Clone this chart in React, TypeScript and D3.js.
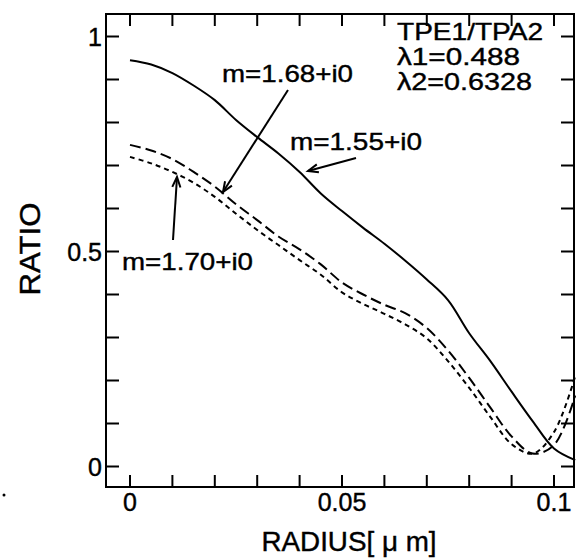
import React from "react";
import * as d3 from "d3";

const radius = [0, 0.005, 0.01, 0.015, 0.02, 0.025, 0.03, 0.035, 0.04, 0.045, 0.05, 0.055, 0.06, 0.065, 0.07, 0.075, 0.08, 0.085, 0.09, 0.095, 0.1, 0.105];
const ratio155 = [0.945, 0.935, 0.915, 0.886, 0.852, 0.806, 0.766, 0.728, 0.685, 0.635, 0.594, 0.555, 0.518, 0.478, 0.435, 0.387, 0.31, 0.245, 0.174, 0.105, 0.042, 0.015];
const ratio168 = [0.748, 0.735, 0.715, 0.685, 0.651, 0.61, 0.573, 0.535, 0.505, 0.47, 0.428, 0.4, 0.376, 0.356, 0.322, 0.27, 0.206, 0.137, 0.07, 0.03, 0.05, 0.165];
const ratio170 = [0.72, 0.705, 0.685, 0.66, 0.627, 0.588, 0.55, 0.515, 0.48, 0.446, 0.405, 0.378, 0.355, 0.33, 0.298, 0.245, 0.183, 0.115, 0.052, 0.03, 0.08, 0.21];
const xTicks = [0, 0.01, 0.02, 0.03, 0.04, 0.05, 0.06, 0.07, 0.08, 0.09, 0.1];
const xLabels = [{ v: 0, t: "0" }, { v: 0.05, t: "0.05" }, { v: 0.1, t: "0.1" }];
const yTicks = [0, 0.1, 0.2, 0.3, 0.4, 0.5, 0.6, 0.7, 0.8, 0.9, 1];
const yLabels = [{ v: 0, t: "0" }, { v: 0.5, t: "0.5" }, { v: 1, t: "1" }];
const infoLines = ["TPE1/TPA2", "λ1=0.488", "λ2=0.6328"];

const W = 576, H = 558;
const FONT = "'Liberation Sans', Arial, Helvetica, sans-serif";

export default function App() {
  const x = d3.scaleLinear().domain([0, 0.1]).range([130, 554]);
  const y = d3.scaleLinear().domain([0, 1]).range([466.5, 36.5]);
  const left = 106, right = 574, top = 14, bottom = 487;
  const line = (vals: number[]) =>
    d3.line<number>().x((_, i) => x(radius[i])).y((d) => y(d)).curve(d3.curveCatmullRom.alpha(0.5))(vals) || "";

  const arrow = (x1: number, y1: number, x2: number, y2: number, key: string) => {
    const a = Math.atan2(y2 - y1, x2 - x1);
    const L = 11, s = 0.38;
    const p1 = [x2 - L * Math.cos(a - s), y2 - L * Math.sin(a - s)];
    const p2 = [x2 - L * Math.cos(a + s), y2 - L * Math.sin(a + s)];
    return (
      <g key={key} stroke="#000" strokeWidth={2} fill="none">
        <line x1={x1} y1={y1} x2={x2} y2={y2} />
        <polyline points={`${p1[0]},${p1[1]} ${x2},${y2} ${p2[0]},${p2[1]}`} />
      </g>
    );
  };

  const txt = { fill: "#000", stroke: "#000", strokeWidth: 0.4 };

  return (
    <svg width={W} height={H} style={{ position: "absolute", left: 0, top: 0, background: "#fff" }} fontFamily={FONT}>
      <rect x={0} y={0} width={W} height={H} fill="#fff" />
      <defs>
        <clipPath id="plot">
          <rect x={left} y={top} width={right - left + 2} height={bottom - top} />
        </clipPath>
      </defs>
      {/* frame */}
      <rect x={left} y={top} width={right - left} height={bottom - top} fill="none" stroke="#000" strokeWidth={2} />
      {/* ticks */}
      {xTicks.map((t) => (
        <g key={"xt" + t} stroke="#000" strokeWidth={2}>
          <line x1={x(t)} x2={x(t)} y1={bottom} y2={bottom - 12} />
          <line x1={x(t)} x2={x(t)} y1={top} y2={top + 12} />
        </g>
      ))}
      {yTicks.map((t) => (
        <g key={"yt" + t} stroke="#000" strokeWidth={2}>
          <line x1={left} x2={left + 13} y1={y(t)} y2={y(t)} />
          <line x1={right} x2={right - 13} y1={y(t)} y2={y(t)} />
        </g>
      ))}
      {xLabels.map((l) => (
        <text key={"xl" + l.t} x={x(l.v)} y={511} textAnchor="middle" fontSize={25} {...txt}>{l.t}</text>
      ))}
      {yLabels.map((l) => (
        <text key={"yl" + l.t} x={102} y={y(l.v) + 9} textAnchor="end" fontSize={25} {...txt}>{l.t}</text>
      ))}
      <text x={349} y={551} textAnchor="middle" fontSize={27} textLength={175} lengthAdjust="spacingAndGlyphs" {...txt}>RADIUS[ μ m]</text>
      <text transform="translate(40,249) rotate(-90)" textAnchor="middle" fontSize={29} textLength={93} lengthAdjust="spacingAndGlyphs" {...txt}>RATIO</text>

      <g clipPath="url(#plot)" fill="none" stroke="#000" strokeWidth={2}>
        <path d={line(ratio155)} />
        <path d={line(ratio168)} strokeDasharray="11,5" />
        <path d={line(ratio170)} strokeDasharray="5,4" />
      </g>

      {/* annotations */}
      <text x={222} y={82} fontSize={24} textLength={131} lengthAdjust="spacingAndGlyphs" {...txt}>m=1.68+i0</text>
      <text x={290} y={150} fontSize={24} textLength={132} lengthAdjust="spacingAndGlyphs" {...txt}>m=1.55+i0</text>
      <text x={122} y={270} fontSize={24} textLength={131} lengthAdjust="spacingAndGlyphs" {...txt}>m=1.70+i0</text>
      {infoLines.map((s, i) => (
        <text key={s} x={397} y={40 + i * 25} fontSize={24} textLength={[146, 123, 135][i]} lengthAdjust="spacingAndGlyphs" {...txt}>{s}</text>
      ))}
      {arrow(288, 90, 223, 192, "a1")}
      {arrow(356, 158, 308, 171, "a2")}
      {arrow(173, 240, 177, 177, "a3")}
      <circle cx={4} cy={495} r={1.5} fill="#000" />
    </svg>
  );
}
